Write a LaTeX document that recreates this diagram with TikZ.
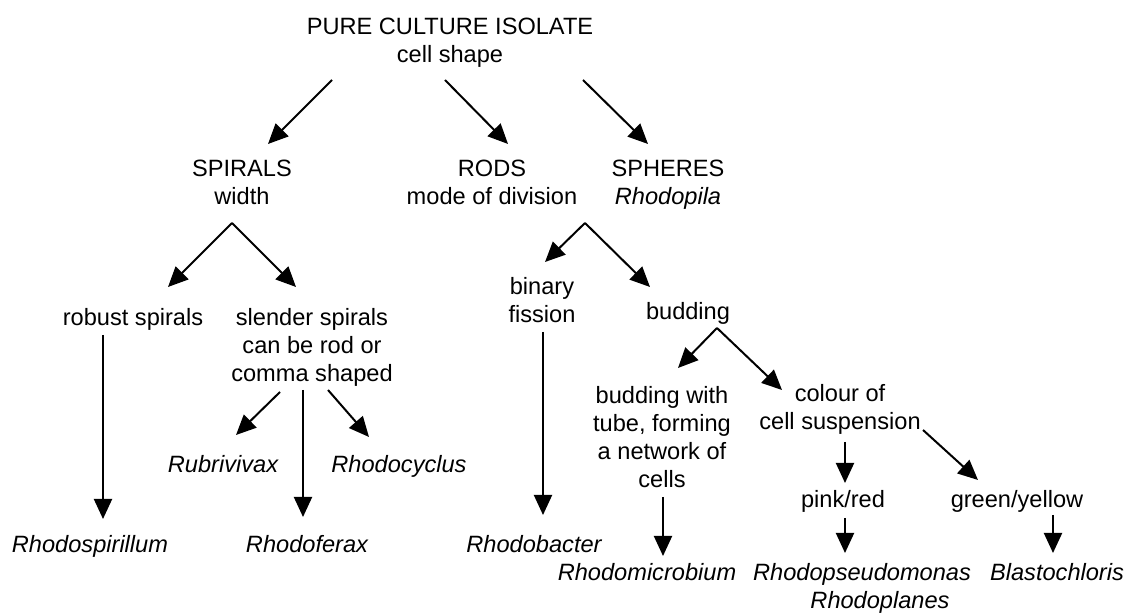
\documentclass[tikz,border=0pt]{standalone}
\usepackage{fontspec}
\setmainfont{Liberation Sans}
\usetikzlibrary{arrows.meta}
\begin{document}
\begin{tikzpicture}[x=0.5pt,y=-0.5pt]
	% Styles
	\tikzstyle{fleche}=[-{Triangle[length=10pt,width=9pt]},line width=1pt]
	\tikzstyle{noeud}=[inner sep=0pt,align=center,anchor=base,font=\fontsize{11.8}{14}\selectfont]
	\tikzstyle{feuille}=[noeud,font=\fontsize{11.8}{14}\selectfont\itshape]
	% Cadre
	\useasboundingbox (0,0) rectangle (1135,613);
	% Niveaux (ligne de base de la derniere ligne)
	\def\NiveauA{63}
	\def\NiveauB{205}
	\def\NiveauC{382}
	\def\NiveauD{430}
	\def\NiveauE{553}
	\def\NiveauF{581}
	% Noeuds
	\node[noeud] (isolat) at (450,\NiveauA) {PURE CULTURE ISOLATE\\cell shape};
	%
	\node[noeud] (spirales) at (242,\NiveauB) {SPIRALS\\width};
	\node[noeud] (batonnets) at (492,\NiveauB) {RODS\\mode of division};
	\node[noeud] (spheres) at (668,\NiveauB) {SPHERES\\\textit{Rhodopila}};
	%
	\node[noeud] (robustes) at (133,326) {robust spirals};
	\node[noeud] (fines) at (312,\NiveauC) {slender spirals\\can be rod or\\comma shaped};
	\node[noeud] (binaire) at (542,323) {binary\\fission};
	\node[noeud] (bourgeon) at (688,320) {budding};
	%
	\node[noeud] (tube) at (662,488) {budding with\\tube, forming\\a network of\\cells};
	\node[noeud] (couleur) at (840,\NiveauD) {colour of\\cell suspension};
	\node[feuille] (Rbr) at (223,473) {Rubrivivax};
	\node[feuille] (Rcy) at (399,473) {Rhodocyclus};
	\node[noeud] (rose) at (843,508) {pink/red};
	\node[noeud] (vert) at (1017,508) {green/yellow};
	%
	\node[feuille] (Rsp) at (90,\NiveauE) {Rhodospirillum};
	\node[feuille] (Rfx) at (307,\NiveauE) {Rhodoferax};
	\node[feuille] (Rba) at (534,\NiveauE) {Rhodobacter};
	\node[feuille] (Rmi) at (647,\NiveauF) {Rhodomicrobium};
	\node[feuille] (Rps) at (862,609) {Rhodopseudomonas\\\hspace*{18pt}Rhodoplanes};
	\node[feuille] (Bla) at (1057,\NiveauF) {Blastochloris};
	% Arcs
	\draw[fleche] ([shift={(-118,17)}]isolat.base)--([shift={(26,-61)}]spirales.base);
	\draw[fleche] ([shift={(-5,17)}]isolat.base)--([shift={(16,-61)}]batonnets.base);
	\draw[fleche] ([shift={(133,17)}]isolat.base)--([shift={(-20,-61)}]spheres.base);
	\draw[fleche] ([shift={(-10,18)}]spirales.base)--([shift={(35,-39)}]robustes.base);
	\draw[fleche] ([shift={(-10,18)}]spirales.base)--([shift={(-16,-95)}]fines.base);
	\draw[fleche] ([shift={(-30,9)}]robustes.base)--([shift={(13,-34)}]Rsp.base);
	\draw[fleche] ([shift={(-32,10)}]fines.base)--([shift={(13,-38)}]Rbr.base);
	\draw[fleche] ([shift={(-9,8)}]fines.base)--([shift={(-4,-36)}]Rfx.base);
	\draw[fleche] ([shift={(16,8)}]fines.base)--([shift={(-30,-36)}]Rcy.base);
	\draw[fleche] ([shift={(93,18)}]batonnets.base)--([shift={(3,-61)}]binaire.base);
	\draw[fleche] ([shift={(93,18)}]batonnets.base)--([shift={(-38,-33)}]bourgeon.base);
	\draw[fleche] ([shift={(1,9)}]binaire.base)--([shift={(9,-38)}]Rba.base);
	\draw[fleche] ([shift={(29,8)}]bourgeon.base)--([shift={(16,-120)}]tube.base);
	\draw[fleche] ([shift={(29,8)}]bourgeon.base)--([shift={(-58,-40)}]couleur.base);
	\draw[fleche] ([shift={(1,9)}]tube.base)--([shift={(16,-25)}]Rmi.base);
	\draw[fleche] ([shift={(5,12)}]couleur.base)--([shift={(2,-25)}]rose.base);
	\draw[fleche] ([shift={(83,0)}]couleur.base)--([shift={(-39,-28)}]vert.base);
	\draw[fleche] ([shift={(2,10)}]rose.base)--([shift={(-17,-56)}]Rps.base);
	\draw[fleche] ([shift={(36,7)}]vert.base)--([shift={(-4,-28)}]Bla.base);
\end{tikzpicture}
\end{document}
